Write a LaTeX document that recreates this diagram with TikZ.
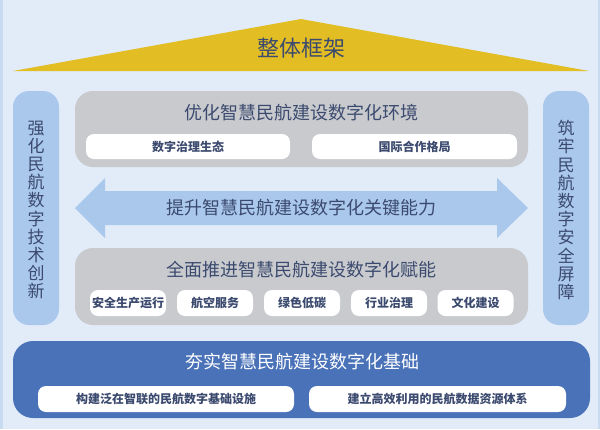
\documentclass[tikz,border=0pt]{standalone}
\usepackage{fontspec}
\setmainfont{Noto Sans CJK SC}
\newfontfamily\cjk{Noto Sans CJK SC}
\definecolor{bgc}{HTML}{E1ECF8}
\definecolor{edgec}{HTML}{C9DBF0}
\definecolor{pillc}{HTML}{A9C8EC}
\definecolor{grayc}{HTML}{C8CACE}
\definecolor{bluec}{HTML}{4A72B8}
\definecolor{goldc}{HTML}{E2BE24}
\definecolor{navyc}{HTML}{3B4A6E}
\tikzset{
  x=1pt,y=-1pt,
  pillar/.style={fill=pillc,rounded corners=16pt},
  panel/.style={fill=grayc,rounded corners=18pt},
  basepanel/.style={fill=bluec,rounded corners=20pt},
  subbox/.style={fill=white,rounded corners=8pt,inner sep=0pt,text=navyc,font=\cjk\bfseries\fontsize{12}{12}\selectfont},
  title/.style={text=navyc,font=\cjk\fontsize{18}{18}\selectfont,inner sep=0pt},
  vtext/.style={text=navyc,font=\cjk\fontsize{17}{18.2}\selectfont,align=center,inner sep=0pt},
}
\begin{document}
\begin{tikzpicture}
\useasboundingbox (0,0) rectangle (600,429);
\fill[bgc] (0,0) rectangle (600,429);
\fill[edgec] (0,0) rectangle (2.5,429);
\fill[edgec] (597.5,0) rectangle (600,429);
% roof
\fill[goldc] (13,71) -- (301,19) -- (589,71) -- cycle;
\node[text=navyc,font=\cjk\fontsize{22}{22}\selectfont,inner sep=0pt] (roof) at (301,48) {整体框架};
% pillars
\fill[pillar] (13,91) rectangle (59,325);
\fill[pillar] (543,91) rectangle (589,325);
\node[vtext] (lp) at (36,210) {强\\化\\民\\航\\数\\字\\技\\术\\创\\新};
\node[vtext] (rp) at (566,210) {筑\\牢\\民\\航\\数\\字\\安\\全\\屏\\障};
% top panel
\fill[panel] (75,91) rectangle (528,167);
\node[title] (t1) at (301.5,113) {优化智慧民航建设数字化环境};
\node[subbox,minimum width=204pt,minimum height=25pt] (s11) at (188,146.5) {数字治理生态};
\node[subbox,minimum width=205pt,minimum height=25pt] (s12) at (414.5,146.5) {国际合作格局};
% arrow
\fill[pillc] (75,208) -- (105,178) -- (105,191) -- (497,191) -- (497,178) -- (528,208) -- (497,238) -- (497,225) -- (105,225) -- (105,238) -- cycle;
\node[title] (t2) at (301.5,208) {提升智慧民航建设数字化关键能力};
% middle panel
\fill[panel] (75,248) rectangle (528,325);
\node[title] (t3) at (301.5,270) {全面推进智慧民航建设数字化赋能};
\node[subbox,minimum width=76pt,minimum height=26pt] (m1) at (128,303) {安全生产运行};
\node[subbox,minimum width=76pt,minimum height=26pt] (m2) at (215,303) {航空服务};
\node[subbox,minimum width=76pt,minimum height=26pt] (m3) at (302,303) {绿色低碳};
\node[subbox,minimum width=76pt,minimum height=26pt] (m4) at (389,303) {行业治理};
\node[subbox,minimum width=76pt,minimum height=26pt] (m5) at (475.5,303) {文化建设};
% base
\fill[basepanel] (13,341) rectangle (590,418);
\node[title,text=white] (t4) at (302,362) {夯实智慧民航建设数字化基础};
\node[subbox,minimum width=256pt,minimum height=26pt] (b1) at (166,399) {构建泛在智联的民航数字基础设施};
\node[subbox,minimum width=257pt,minimum height=26pt] (b2) at (437.5,399) {建立高效利用的民航数据资源体系};
\end{tikzpicture}
\end{document}
